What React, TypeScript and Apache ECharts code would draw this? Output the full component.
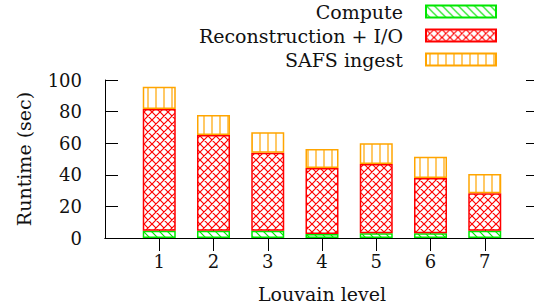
import { useEffect, useRef } from 'react';
import * as echarts from 'echarts';

const levels = ['1', '2', '3', '4', '5', '6', '7'];
const compute = [4.6, 4.6, 4.6, 2.5, 3, 3, 4.6];
const reconIO = [77, 60.6, 49.4, 41.8, 43.8, 35, 23.7];
const safsIngest = [14.2, 12.6, 13, 12, 13.2, 13.5, 12.2];
const seriesNames = ['Compute', 'Reconstruction + I/O', 'SAFS ingest'];

const FONT = 'DejaVu Serif';

function makePattern(kind: string, color: string) {
  const s = 8;
  const c = document.createElement('canvas');
  c.width = s;
  c.height = s;
  const g = c.getContext('2d')!;
  g.fillStyle = '#ffffff';
  g.fillRect(0, 0, s, s);
  g.strokeStyle = color;
  g.lineWidth = 1.2;
  g.beginPath();
  if (kind === 'diag' || kind === 'cross') {
    for (const o of [-s, 0, s]) {
      g.moveTo(o - 2, -2);
      g.lineTo(o + s + 2, s + 2);
    }
  }
  if (kind === 'cross') {
    for (const o of [-s, 0, s]) {
      g.moveTo(o + s + 2, -2);
      g.lineTo(o - 2, s + 2);
    }
  }
  if (kind === 'vert') {
    g.moveTo(4, 0);
    g.lineTo(4, s);
  }
  g.stroke();
  return { image: c.toDataURL(), repeat: 'repeat', imageWidth: s, imageHeight: s } as any;
}

export default function App() {
  const ref = useRef<HTMLDivElement>(null);
  useEffect(() => {
    if (!ref.current) return;
    const chart = echarts.init(ref.current, null, { renderer: 'svg' });
    const cats = ['', ...levels, ''];
    const pad = (a: number[]) => ['-', ...a, '-'];
    const green = '#00e600';
    const red = '#ff0000';
    const orange = '#ffa500';
    const lineStyle = { color: '#000', width: 1 };
    const tickFn = (i: number) => i > 0 && i < cats.length - 1;
    const mk = (name: string, data: number[], kind: string, color: string) => ({
      name,
      type: 'bar',
      stack: 'total',
      barWidth: 33,
      data: pad(data),
      itemStyle: { color: makePattern(kind, color), borderColor: color, borderWidth: 1.5 },
    });
    chart.setOption({
      animation: false,
      grid: { left: 105, top: 80, width: 434, height: 158, outerBoundsMode: 'none', containLabel: false },
      legend: {
        orient: 'vertical',
        align: 'right',
        right: 32,
        top: -3,
        itemWidth: 70,
        itemHeight: 12,
        itemGap: 5,
        icon: 'rect',
        selectedMode: false,
        data: seriesNames,
        textStyle: {
          fontFamily: FONT,
          fontSize: 19,
          color: '#111',
          lineHeight: 18,
          padding: [0, 18, 0, 0],
        },
      },
      xAxis: [
        {
          type: 'category',
          data: cats,
          boundaryGap: false,
          position: 'bottom',
          axisLine: { lineStyle },
          axisTick: { inside: true, length: 13, interval: tickFn, lineStyle },
          axisLabel: { interval: 0, margin: 14, fontFamily: FONT, fontSize: 18, color: '#111' },
          name: 'Louvain level',
          nameLocation: 'middle',
          nameGap: 46,
          nameTextStyle: { fontFamily: FONT, fontSize: 19, color: '#111' },
        },
        {
          type: 'category',
          data: cats,
          boundaryGap: false,
          position: 'top',
          axisLine: { lineStyle },
          axisTick: { inside: true, length: 13, interval: tickFn, lineStyle },
          axisLabel: { show: false },
        },
      ],
      yAxis: [
        {
          type: 'value',
          min: 0,
          max: 100,
          interval: 20,
          position: 'left',
          splitLine: { show: false },
          axisLine: { show: true, lineStyle },
          axisTick: { show: true, inside: true, length: 13, lineStyle },
          axisLabel: { margin: 23, fontFamily: FONT, fontSize: 18, color: '#111' },
          name: 'Runtime (sec)',
          nameLocation: 'middle',
          nameGap: 72,
          nameTextStyle: { fontFamily: FONT, fontSize: 19, color: '#111' },
        },
        {
          type: 'value',
          min: 0,
          max: 100,
          interval: 20,
          position: 'right',
          splitLine: { show: false },
          axisLine: { show: true, lineStyle },
          axisTick: { show: true, inside: true, length: 13, lineStyle },
          axisLabel: { show: false },
        },
      ],
      series: [
        mk(seriesNames[0], compute, 'diag', green),
        mk(seriesNames[1], reconIO, 'cross', red),
        mk(seriesNames[2], safsIngest, 'vert', orange),
      ],
    });
    return () => chart.dispose();
  }, []);
  return (
    <div
      ref={ref}
      style={{ position: 'fixed', left: 0, top: 0, width: 534, height: 306, background: '#fff' }}
    />
  );
}
